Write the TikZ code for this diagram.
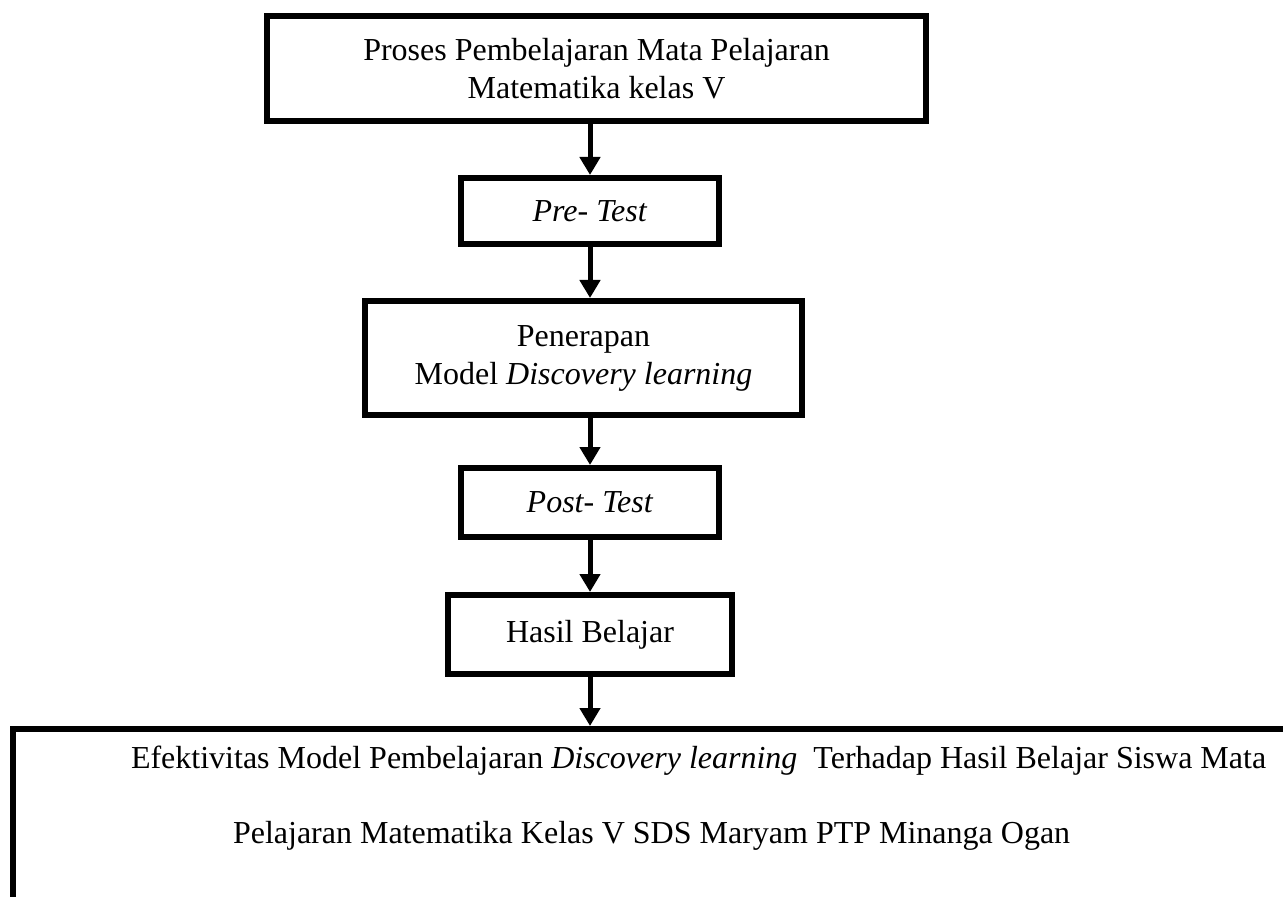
\documentclass[tikz,border=0pt]{standalone}
\usepackage{fontspec}
\setmainfont{Liberation Serif}
\usepackage{tikz}
\usetikzlibrary{positioning, arrows.meta}

\begin{document}
\begin{tikzpicture}[
    node distance=25.5pt,
    box/.style={draw, line width=3pt, align=center, font=\fontsize{16}{19}\selectfont},
    bigbox/.style={draw, line width=3pt, align=flush left, text width=600pt, inner xsep=59pt, inner ysep=8.5pt,
      font=\fontsize{16}{37.5}\selectfont},
    arr/.style={-{Triangle[length=9pt, width=10pt]}, line width=2.5pt},
]
\useasboundingbox (0,0) rectangle (641.5pt,-448.5pt);
\clip (0,0) rectangle (641.5pt,-448.5pt);

\node[box, minimum width=329.5pt, minimum height=52.5pt] (proses) at (298.25pt,-34.25pt)
  {Proses Pembelajaran Mata Pelajaran\\Matematika kelas V};
\node[box, minimum width=129pt, minimum height=33pt, below=of proses, xshift=-3.25pt] (pretest)
  {\textit{Pre- Test}};
\node[box, minimum width=218.5pt, minimum height=57pt, below=of pretest, xshift=-3.25pt] (penerapan)
  {Penerapan\\Model \textit{Discovery learning}};
\node[box, minimum width=129pt, minimum height=34.5pt, below=23.5pt of penerapan, xshift=3.25pt] (posttest)
  {\textit{Post- Test}};
\node[box, minimum width=142pt, minimum height=39.5pt, below=26pt of posttest] (hasil)
  {Hasil Belajar};
\node[bigbox, anchor=north west] (efektivitas) at (5pt,-363pt)
  {Efektivitas Model Pembelajaran \textit{Discovery learning}\ \ Terhadap Hasil Belajar Siswa Mata\\
   \hspace*{51pt}Pelajaran Matematika Kelas V SDS Maryam PTP Minanga Ogan\\ \mbox{}};

\draw[arr] (proses.south -| pretest.north) -- (pretest.north);
\draw[arr] (pretest.south) -- (pretest.south |- penerapan.north);
\draw[arr] (pretest.south |- penerapan.south) -- (pretest.south |- posttest.north);
\draw[arr] (posttest.south) -- (hasil.north);
\draw[arr] (hasil.south) -- (hasil.south |- efektivitas.north);
\end{tikzpicture}
\end{document}
